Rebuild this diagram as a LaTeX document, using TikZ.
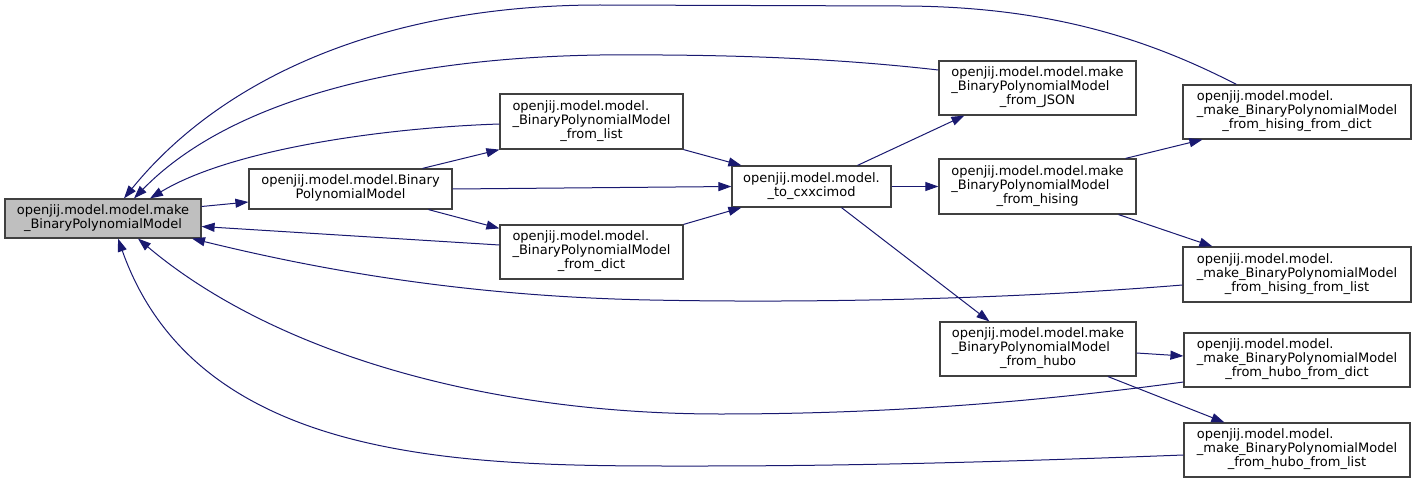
\documentclass[tikz,border=0pt]{standalone}
\usepackage{fontspec}
\setmainfont{DejaVu Sans}
\usetikzlibrary{arrows.meta,calc}
\definecolor{edgec}{HTML}{191970}
\definecolor{boxc}{HTML}{404040}
\definecolor{mainfill}{HTML}{BFBFBF}
\newcommand{\lbltwo}[2]{\begin{tabular}{@{}l@{}}#1\\\multicolumn{1}{@{}c@{}}{#2}\end{tabular}}
\newcommand{\lblthree}[3]{\begin{tabular}{@{}l@{}}#1\\#2\\\multicolumn{1}{@{}c@{}}{#3}\end{tabular}}
\begin{document}
\begin{tikzpicture}[x=1pt,y=-1pt,
  box/.style={draw=boxc,line width=1.2pt,inner sep=0pt,fill=white,text=black,font=\fontsize{13}{14}\selectfont},
  edge/.style={draw=edgec,line width=1pt,-{Triangle[length=13pt,width=9pt]},fill=none}]
\useasboundingbox (0,0) rectangle (1416,484);
% nodes
\node[box,fill=mainfill,minimum width=196pt,minimum height=39pt] (main) at (103,218.5) {\lbltwo{openjij.model.model.make}{\_BinaryPolynomialModel}};
\node[box,minimum width=203pt,minimum height=40pt] (bpm) at (350.5,189) {\lbltwo{openjij.model.model.Binary}{PolynomialModel}};
\node[box,minimum width=183pt,minimum height=55pt] (flist) at (591.5,121.5) {\lblthree{openjij.model.model.}{\_BinaryPolynomialModel}{\_from\_list}};
\node[box,minimum width=183pt,minimum height=54pt] (fdict) at (591.5,252) {\lblthree{openjij.model.model.}{\_BinaryPolynomialModel}{\_from\_dict}};
\node[box,minimum width=159pt,minimum height=41pt] (cxx) at (811.5,186.5) {\lbltwo{openjij.model.model.}{\_to\_cxxcimod}};
\node[box,minimum width=197pt,minimum height=54pt] (json) at (1037.5,88) {\lblthree{openjij.model.model.make}{\_BinaryPolynomialModel}{\_from\_JSON}};
\node[box,minimum width=197pt,minimum height=55pt] (hising) at (1037.5,186.5) {\lblthree{openjij.model.model.make}{\_BinaryPolynomialModel}{\_from\_hising}};
\node[box,minimum width=196pt,minimum height=54pt] (hubo) at (1038,349) {\lblthree{openjij.model.model.make}{\_BinaryPolynomialModel}{\_from\_hubo}};
\node[box,minimum width=228pt,minimum height=54pt] (hfd) at (1297,112) {\lblthree{openjij.model.model.}{\_make\_BinaryPolynomialModel}{\_from\_hising\_from\_dict}};
\node[box,minimum width=228pt,minimum height=55pt] (hfl) at (1297,274.5) {\lblthree{openjij.model.model.}{\_make\_BinaryPolynomialModel}{\_from\_hising\_from\_list}};
\node[box,minimum width=226pt,minimum height=54pt] (ufd) at (1297,360) {\lblthree{openjij.model.model.}{\_make\_BinaryPolynomialModel}{\_from\_hubo\_from\_dict}};
\node[box,minimum width=226pt,minimum height=54pt] (ufl) at (1297,450) {\lblthree{openjij.model.model.}{\_make\_BinaryPolynomialModel}{\_from\_hubo\_from\_list}};
% edges
\draw[edge] ($(main.east)+(0,-12)$) -- ($(bpm.west)+(0,13)$);
\draw[edge] ($(bpm.north)+(72,0)$) -- (flist.south west);
\draw[edge] ($(bpm.south)+(78,0)$) -- ($(fdict.north west)+(0,4)$);
\draw[edge] (bpm.east) -- (cxx.west);
\draw[edge] (flist.south east) -- ($(cxx.north west)+(10,0)$);
\draw[edge] (fdict.north east) -- ($(cxx.south west)+(10,0)$);
\draw[edge] ($(fdict.west)+(0,-7)$) -- ($(main.east)+(0,8)$);
\draw[edge] ($(flist.west)+(0,2.5)$) .. controls (380,128) and (230,150) .. ($(main.north)+(47,0)$);
\draw[edge] ($(json.west)+(0,-18)$) .. controls (850,60) and (750,54) .. (600,55) .. controls (400,58) and (230,100) .. ($(main.north)+(31,0)$);
\draw[edge] ($(hfd.north west)+(54,0)$) .. controls (1150,40) and (1050,6) .. (900,6) -- (600,5) .. controls (380,5) and (220,80) .. ($(main.north)+(21,0)$);
\draw[edge] ($(cxx.north)+(46,0)$) -- ($(json.south west)+(26,0)$);
\draw[edge] (cxx.east) -- (hising.west);
\draw[edge] ($(cxx.south)+(30,0)$) -- ($(hubo.north west)+(50,0)$);
\draw[edge] ($(hising.north east)+(-11,0)$) -- ($(hfd.south west)+(20,0)$);
\draw[edge] ($(hising.south east)+(-18,0)$) -- ($(hfl.north west)+(30,0)$);
\draw[edge] ($(hubo.east)+(0,4)$) -- ($(ufd.west)+(0,-4)$);
\draw[edge] ($(hubo.south)+(70,0)$) -- ($(ufl.north west)+(41,0)$);
\draw[edge] ($(hfl.west)+(0,10.5)$) .. controls (1000,300) and (800,303) .. (650,300) .. controls (450,296) and (300,265) .. ($(main.south)+(89,0)$);
\draw[edge] ($(ufd.west)+(0,22)$) .. controls (1050,400) and (900,414) .. (720,414) .. controls (480,414) and (270,350) .. ($(main.south)+(35,0)$);
\draw[edge] ($(ufl.west)+(0,5)$) .. controls (1000,462) and (850,466) .. (700,466) .. controls (480,466) and (200,470) .. ($(main.south)+(15,0)$);
\end{tikzpicture}
\end{document}
